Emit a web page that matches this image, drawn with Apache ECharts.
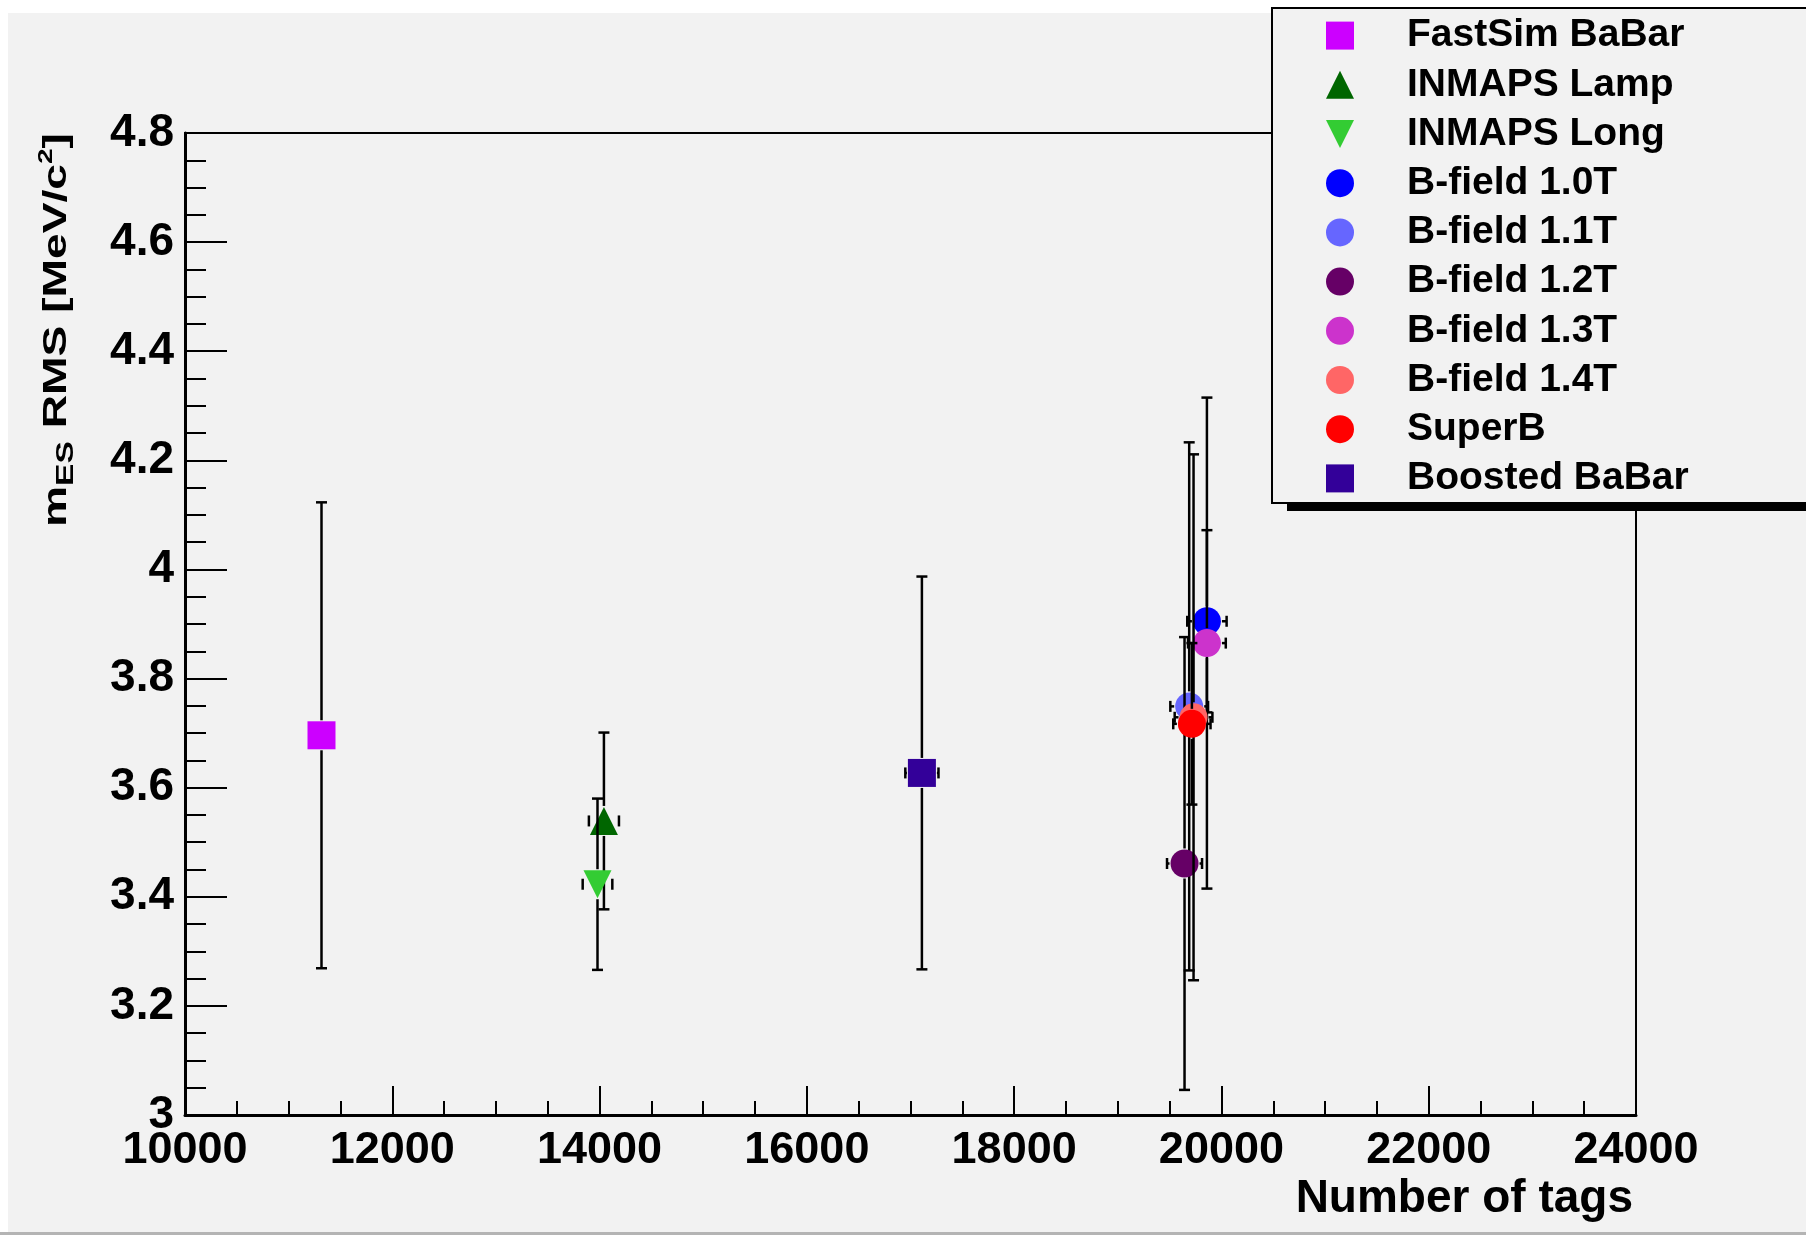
<!DOCTYPE html>
<html><head><meta charset="utf-8">
<script src="https://cdn.jsdelivr.net/npm/echarts@6/dist/echarts.min.js"></script>
<style>html,body{margin:0;padding:0;background:#fff}#c{width:1806px;height:1235px}</style>
</head><body><div id="c"></div>
<script>
// ---- data ----
const seriesNames = ['FastSim BaBar','INMAPS Lamp','INMAPS Long','B-field 1.0T','B-field 1.1T','B-field 1.2T','B-field 1.3T','B-field 1.4T','SuperB','Boosted BaBar'];
const xValues = [11317, 14042, 13980, 19860, 19689, 19644, 19860, 19731, 19715, 17110];
const yValues = [3.696, 3.539, 3.423, 3.905, 3.749, 3.461, 3.865, 3.729, 3.717, 3.627];
const xErrors = [0, 145, 143, 190, 182, 169, 182, 182, 180, 160];
const yErrors = [0.427, 0.162, 0.157, 0.167, 0.484, 0.415, 0.450, 0.482, 0.148, 0.360];
const xTickValues = [10000, 12000, 14000, 16000, 18000, 20000, 22000, 24000];
const yTickValues = [3, 3.2, 3.4, 3.6, 3.8, 4, 4.2, 4.4, 4.6, 4.8];

// ---- styles ----
const seriesColors = ['#cc00ff','#006600','#33cc33','#0000ff','#6666ff','#660066','#cc33cc','#ff6666','#ff0000','#330099'];
const markerShapes = ['square','up','down','circle','circle','circle','circle','circle','circle','square'];
const FONT = 'Liberation Sans, Arial, Helvetica, sans-serif';

function makeRender(shape, color) {
  return function (params, api) {
    const x = api.value(0), y = api.value(1), ex = api.value(2), ey = api.value(3);
    const c = api.coord([x, y]);
    const top = api.coord([x, y + ey])[1], bot = api.coord([x, y - ey])[1];
    const left = api.coord([x - ex, y])[0], right = api.coord([x + ex, y])[0];
    const h = 14, cap = 5.5, lw = 2.5;
    const kids = [];
    const ln = (x1, y1, x2, y2) => kids.push({type: 'line', shape: {x1, y1, x2, y2}, style: {stroke: '#000', lineWidth: lw}});
    if (ey > 0) {
      if (c[1] - top > h) ln(c[0], c[1] - h - 1, c[0], top);
      ln(c[0] - cap, top, c[0] + cap, top);
      if (bot - c[1] > h) ln(c[0], c[1] + h + 1, c[0], bot);
      ln(c[0] - cap, bot, c[0] + cap, bot);
    }
    if (ex > 0) {
      if (c[0] - left > h) ln(c[0] - h - 1, c[1], left, c[1]);
      ln(left, c[1] - cap, left, c[1] + cap);
      if (right - c[0] > h) ln(c[0] + h + 1, c[1], right, c[1]);
      ln(right, c[1] - cap, right, c[1] + cap);
    }
    const st = {fill: color};
    if (shape === 'square') kids.push({type: 'rect', shape: {x: c[0] - h, y: c[1] - h, width: 2 * h, height: 2 * h}, style: st});
    else if (shape === 'circle') kids.push({type: 'circle', shape: {cx: c[0], cy: c[1], r: h}, style: st});
    else if (shape === 'up') kids.push({type: 'polygon', shape: {points: [[c[0], c[1] - h], [c[0] + h, c[1] + h], [c[0] - h, c[1] + h]]}, style: st});
    else kids.push({type: 'polygon', shape: {points: [[c[0], c[1] + h], [c[0] + h, c[1] - h], [c[0] - h, c[1] - h]]}, style: st});
    return {type: 'group', children: kids};
  };
}

const legendIcons = {square: 'rect', circle: 'circle', up: 'triangle', down: 'path://M0,0L2,0L1,2Z'};

const series = seriesNames.map((name, i) => ({
  type: 'custom',
  name: name,
  coordinateSystem: 'cartesian2d',
  itemStyle: {color: seriesColors[i]},
  encode: {x: 0, y: 1},
  data: [[xValues[i], yValues[i], xErrors[i], yErrors[i]]],
  renderItem: makeRender(markerShapes[i], seriesColors[i]),
  animation: false
}));

const chart = echarts.init(document.getElementById('c'), null, {renderer: 'canvas'});
chart.setOption({
  backgroundColor: '#f2f2f2',
  animation: false,
  grid: {left: 185, right: 170, top: 133, bottom: 120, show: true, borderColor: '#000', borderWidth: 2, backgroundColor: 'transparent'},
  xAxis: {
    type: 'value', min: xTickValues[0], max: xTickValues[xTickValues.length - 1], interval: 2000,
    axisLine: {show: true, onZero: false, lineStyle: {color: '#000', width: 3}},
    axisTick: {show: true, inside: true, length: 29, lineStyle: {color: '#000', width: 2}},
    minorTick: {show: true, splitNumber: 4, length: 14, lineStyle: {color: '#000', width: 2}},
    splitLine: {show: false},
    axisLabel: {color: '#000', fontSize: 45, fontWeight: 'bold', fontFamily: FONT, margin: 13, showMinLabel: true, showMaxLabel: true,
      formatter: v => String(v)}
  },
  yAxis: {
    type: 'value', min: yTickValues[0], max: yTickValues[yTickValues.length - 1], interval: 0.2,
    axisLine: {show: true, onZero: false, lineStyle: {color: '#000', width: 3}},
    axisTick: {show: true, inside: true, length: 42, lineStyle: {color: '#000', width: 2}},
    minorTick: {show: true, splitNumber: 4, length: 21, lineStyle: {color: '#000', width: 2}},
    splitLine: {show: false},
    axisLabel: {color: '#000', fontSize: 46, fontWeight: 'bold', fontFamily: FONT, margin: 11, showMinLabel: true, showMaxLabel: true,
      formatter: v => String(+v.toFixed(1))}
  },
  legend: {
    orient: 'vertical', left: 1272, top: 8,
    padding: [3, 250, 0, 54],
    itemWidth: 28, itemHeight: 28, itemGap: 0,
    backgroundColor: '#f2f2f2', borderColor: '#000', borderWidth: 2,
    selectedMode: false,
    textStyle: {color: '#000', fontSize: 39, fontWeight: 'bold', fontFamily: FONT, lineHeight: 49.2, padding: [0, 0, 0, 48]},
    data: seriesNames.map((n, i) => ({name: n, icon: legendIcons[markerShapes[i]], itemStyle: {color: seriesColors[i]}}))
  },
  graphic: [
    {type: 'rect', z: -1, shape: {x: 0, y: 0, width: 1806, height: 13}, style: {fill: '#ffffff'}},
    {type: 'rect', z: -1, shape: {x: 0, y: 0, width: 8, height: 1235}, style: {fill: '#ffffff'}},
    {type: 'rect', z: -1, shape: {x: 0, y: 1232, width: 1806, height: 3}, style: {fill: '#b4b4b4'}},
    {type: 'rect', z: 10, shape: {x: 1287, y: 502, width: 530, height: 9}, style: {fill: '#000'}},
    {type: 'text', z: 10, x: 1633, y: 1199, style: {text: 'Number of tags', align: 'right', verticalAlign: 'middle', fill: '#000', font: 'bold 46px ' + FONT}},
    {type: 'text', z: 10, x: 57, y: 133, rotation: Math.PI / 2, scaleX: 1.4, scaleY: 1,
      style: {
        text: '{m|m}{s|ES}{m| RMS [MeV/c}{p|2}{m|]}', align: 'right', verticalAlign: 'middle', fill: '#000',
        rich: {
          m: {fontSize: 33, fontWeight: 'bold', fontFamily: FONT, lineHeight: 42, verticalAlign: 'middle', fill: '#000'},
          s: {fontSize: 24, fontWeight: 'bold', fontFamily: FONT, lineHeight: 22, verticalAlign: 'bottom', fill: '#000'},
          p: {fontSize: 20, fontWeight: 'bold', fontFamily: FONT, lineHeight: 8, verticalAlign: 'top', fill: '#000'}
        }
      }}
  ],
  series: series
});
</script></body></html>
